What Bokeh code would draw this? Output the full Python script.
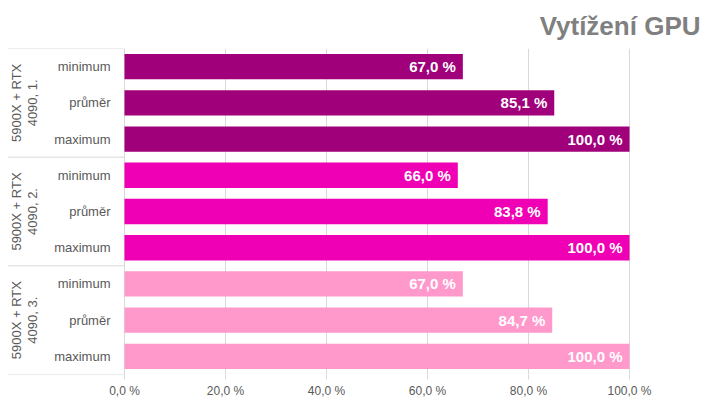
import math
from bokeh.plotting import figure
from bokeh.models import FactorRange, Range1d, FixedTicker, ColumnDataSource
from bokeh.core.properties import value
from bokeh.embed import file_html
from bokeh.resources import INLINE

# ---- data ----
chart_title = "Vytížení GPU"
groups = ["5900X + RTX\n4090, 1.", "5900X + RTX\n4090, 2.", "5900X + RTX\n4090, 3."]
stats = ["minimum", "průměr", "maximum"]
values_1 = [67.0, 85.1, 100.0]
values_2 = [66.0, 83.8, 100.0]
values_3 = [67.0, 84.7, 100.0]
group_colors = ["#A0007A", "#F000B4", "#FF99CC"]
x_ticks = [0, 20, 40, 60, 80, 100]
x_tick_labels = ["0,0 %", "20,0 %", "40,0 %", "60,0 %", "80,0 %", "100,0 %"]

series = [values_1, values_2, values_3]

factors = [(g, s) for g in groups for s in stats]
ys, vals, cols, labs = [], [], [], []
for gi, g in enumerate(groups):
    for si, s in enumerate(stats):
        ys.append((g, s))
        vals.append(series[gi][si])
        cols.append(group_colors[gi])
        labs.append(f"{series[gi][si]:.1f}".replace(".", ",") + " %")

src = ColumnDataSource(dict(y=ys, v=vals, c=cols, lab=labs, sub=[f[1] for f in ys]))

# pixel layout helpers
W, H = 720, 405
px_per_unit = 5.05
left_border = 7
right_border = 20
zero_px = 124 - left_border      # frame px of value 0
frame_w = W - left_border - right_border
x_start = -zero_px / px_per_unit
x_end = x_start + frame_w / px_per_unit

yr = FactorRange(factors=list(reversed(factors)), factor_padding=0, group_padding=0,
                 subgroup_padding=0, range_padding=0)

p = figure(width=W, height=H, output_backend="svg", toolbar_location=None,
           x_range=Range1d(x_start, x_end), y_range=yr, y_axis_location=None,
           min_border_left=left_border, min_border_right=right_border, min_border_bottom=31,
           min_border_top=0)
p.outline_line_color = None
p.background_fill_color = "white"

p.title.text = chart_title
p.title.align = "right"
p.title.text_font = "Liberation Sans"
p.title.text_font_size = "26px"
p.title.text_font_style = "bold"
p.title.text_color = "#808080"
p.title.standoff = 16

# grid
p.ygrid.grid_line_color = None
p.xgrid.ticker = FixedTicker(ticks=x_ticks)
p.xgrid.grid_line_color = "#D9D9D9"

# x axis
xa = p.xaxis[0]
xa.ticker = FixedTicker(ticks=x_ticks)
xa.major_label_overrides = {t: l for t, l in zip(x_ticks, x_tick_labels)}
xa.axis_line_color = None
xa.major_tick_line_color = "#D9D9D9"
xa.major_tick_out = 5
xa.major_tick_in = 0
xa.minor_tick_line_color = None
xa.major_label_text_font = "Liberation Sans"
xa.major_label_text_font_size = "12px"
xa.major_label_text_color = "#595959"
xa.major_label_standoff = 4

# separators in the category area
seps = [k * len(stats) for k in range(len(groups) + 1)]
p.segment(x0=[x_start] * len(seps), x1=[0] * len(seps), y0=seps, y1=seps,
          line_color="#D9D9D9", line_width=1)

# bars
p.hbar(y="y", right="v", left=0, height=0.7, fill_color="c", line_color=None, source=src)

# value labels
p.text(x="v", y="y", text="lab", source=src, x_offset=-7, text_align="right",
       text_baseline="middle", text_color="white", text_font=value("Liberation Sans"),
       text_font_style="bold", text_font_size="15px")

# subcategory labels
p.text(x=(110 - 124) / px_per_unit, y="y", text="sub", source=src, text_align="right",
       text_baseline="middle", text_color="#595959", text_font=value("Liberation Sans"),
       text_font_size="13px")

# group labels
gsrc = ColumnDataSource(dict(y=[(g, stats[1]) for g in groups], t=groups))
p.text(x=(24 - 124) / px_per_unit, y="y", text="t", source=gsrc, angle=math.pi / 2,
       text_align="center", text_baseline="middle", text_color="#595959",
       text_font=value("Liberation Sans"), text_font_size="13px", text_line_height=1.1)

open("out.html", "w").write(file_html(p, INLINE))
